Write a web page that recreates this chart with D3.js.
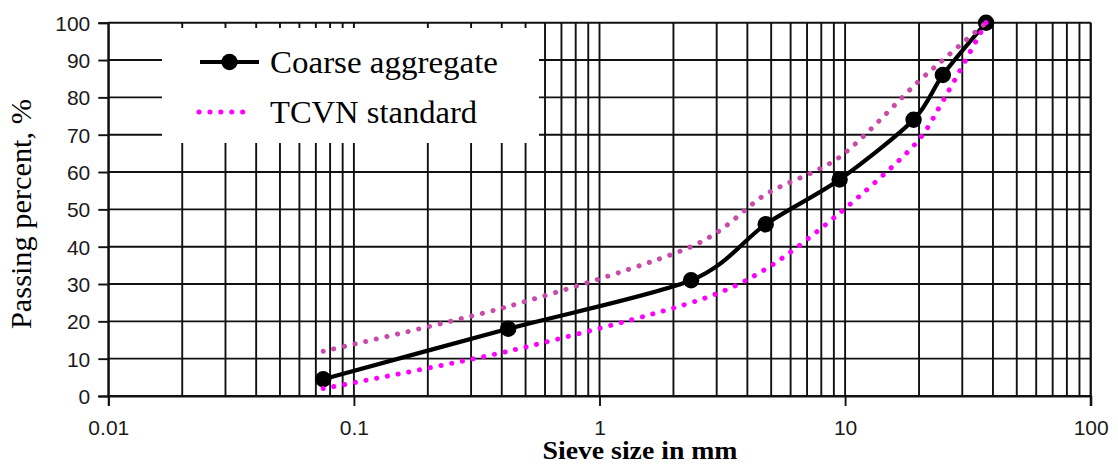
<!DOCTYPE html>
<html>
<head>
<meta charset="utf-8">
<script src="https://cdn.jsdelivr.net/npm/d3@7"></script>
<style>
  body { margin: 0; background: #fff; }
  svg { display: block; }
</style>
</head>
<body>
<div id="chart"></div>
<script>
// sieve sizes (mm) and passing percentages
var sizes = [0.075, 0.425, 2.36, 4.75, 9.5, 19, 25, 37.5];
var coarse = [4.5, 18, 31, 46, 58, 74, 86, 100];
var tcvnLower = [2, 12, 25, 34, 49, 67, 79, 100];
var tcvnUpper = [12, 24, 40, 54, 64, 83, 90, 100];
var xTicks = [0.01, 0.1, 1, 10, 100];
var xTickLabels = ["0.01", "0.1", "1", "10", "100"];
var yTicks = [0, 10, 20, 30, 40, 50, 60, 70, 80, 90, 100];

var width = 1118, height = 466;

var x = d3.scaleLog().domain([0.01, 100]).range([108.3, 1090.7]);
var y = d3.scaleLinear().domain([0, 100]).range([396, 22.7]);

var svg = d3.select("#chart").append("svg")
  .attr("width", width)
  .attr("height", height);

// grid
var grid = svg.append("g").attr("stroke", "#111").attr("stroke-width", 1.9);
grid.selectAll(".vg")
  .data(x.ticks())
  .enter().append("line")
  .attr("x1", function(d) { return x(d); })
  .attr("x2", function(d) { return x(d); })
  .attr("y1", y(100))
  .attr("y2", y(0));
grid.selectAll(".hg")
  .data(yTicks)
  .enter().append("line")
  .attr("x1", x(0.01))
  .attr("x2", x(100))
  .attr("y1", function(d) { return y(d); })
  .attr("y2", function(d) { return y(d); });

// legend background hides part of the grid
svg.append("rect")
  .attr("x", 162).attr("y", 28)
  .attr("width", 377).attr("height", 115)
  .attr("fill", "#fff");

// axes ticks (outside)
var xAxis = d3.axisBottom(x).tickValues(xTicks).tickSize(10)
  .tickFormat(function(d, i) { return xTickLabels[i]; });
var gx = svg.append("g").attr("transform", "translate(0," + y(0) + ")").call(xAxis);
var yAxis = d3.axisLeft(y).tickValues(yTicks).tickSize(10).tickFormat(d3.format("d"));
var gy = svg.append("g").attr("transform", "translate(" + x(0.01) + ",0)").call(yAxis);

[gx, gy].forEach(function(g) {
  g.select(".domain").attr("stroke", "#111").attr("stroke-width", 1.9);
  g.selectAll(".tick line").attr("stroke", "#111").attr("stroke-width", 1.9);
  g.selectAll("text")
    .attr("fill", "#1a1a1a")
    .style("font-family", "'Liberation Sans', Arial, sans-serif")
    .style("font-size", "21px");
});
gx.selectAll("text").attr("y", 0).attr("dy", 0)
  .attr("transform", "translate(0,39)");
gy.selectAll("text").attr("x", -18).attr("dy", "0.36em");

// right border
svg.append("line")
  .attr("x1", x(100)).attr("x2", x(100))
  .attr("y1", y(100)).attr("y2", y(0) + 10)
  .attr("stroke", "#111").attr("stroke-width", 1.9);

var pts = function(vals) {
  return sizes.map(function(s, i) { return [s, vals[i]]; });
};

var line = d3.line()
  .x(function(d) { return x(d[0]); })
  .y(function(d) { return y(d[1]); })
  .curve(d3.curveCardinal.tension(0.15));

// coarse aggregate
svg.append("path")
  .attr("d", line(pts(coarse)))
  .attr("fill", "none")
  .attr("stroke", "#000")
  .attr("stroke-width", 4.2);
svg.selectAll(".pt")
  .data(pts(coarse))
  .enter().append("circle")
  .attr("cx", function(d) { return x(d[0]); })
  .attr("cy", function(d) { return y(d[1]); })
  .attr("r", 8.2)
  .attr("fill", "#000");

// TCVN envelope
svg.append("path")
  .attr("d", line(pts(tcvnUpper)))
  .attr("fill", "none")
  .attr("stroke", "#c94aa8")
  .attr("stroke-width", 5)
  .attr("stroke-linecap", "round")
  .attr("stroke-dasharray", "0.1 10.8");
svg.append("path")
  .attr("d", line(pts(tcvnLower)))
  .attr("fill", "none")
  .attr("stroke", "#ff00ff")
  .attr("stroke-width", 5)
  .attr("stroke-linecap", "round")
  .attr("stroke-dasharray", "0.1 10.8");

// legend
var leg = svg.append("g");
leg.append("line")
  .attr("x1", 200).attr("x2", 259).attr("y1", 62).attr("y2", 62)
  .attr("stroke", "#000").attr("stroke-width", 4.2);
leg.append("circle").attr("cx", 229.5).attr("cy", 62).attr("r", 8.2).attr("fill", "#000");
leg.append("text")
  .attr("x", 270).attr("y", 62).attr("dy", "0.33em")
  .attr("textLength", 228).attr("lengthAdjust", "spacingAndGlyphs")
  .style("font-family", "'Liberation Serif', 'Times New Roman', serif")
  .style("font-size", "32px")
  .text("Coarse aggregate");
leg.append("line")
  .attr("x1", 199).attr("x2", 246).attr("y1", 112).attr("y2", 112)
  .attr("stroke", "#ff00ff").attr("stroke-width", 5)
  .attr("stroke-linecap", "round").attr("stroke-dasharray", "0.1 10.8");
leg.append("text")
  .attr("x", 270).attr("y", 112).attr("dy", "0.33em")
  .attr("textLength", 207).attr("lengthAdjust", "spacingAndGlyphs")
  .style("font-family", "'Liberation Serif', 'Times New Roman', serif")
  .style("font-size", "32px")
  .text("TCVN standard");

// axis titles
svg.append("text")
  .attr("x", 640).attr("y", 459)
  .attr("text-anchor", "middle")
  .attr("textLength", 195).attr("lengthAdjust", "spacingAndGlyphs")
  .style("font-family", "'Liberation Serif', 'Times New Roman', serif")
  .style("font-weight", "bold")
  .style("font-size", "25px")
  .text("Sieve size in mm");

svg.append("text")
  .attr("transform", "translate(31,214) rotate(-90)")
  .attr("text-anchor", "middle")
  .attr("textLength", 230).attr("lengthAdjust", "spacingAndGlyphs")
  .style("font-family", "'Liberation Serif', 'Times New Roman', serif")
  .style("font-size", "29px")
  .text("Passing percent, %");
</script>
</body>
</html>
